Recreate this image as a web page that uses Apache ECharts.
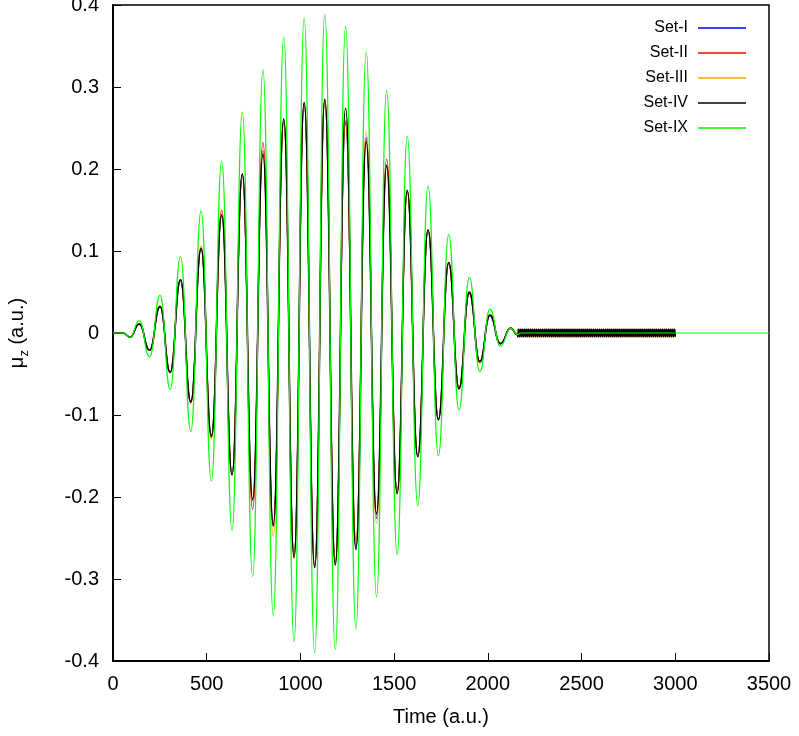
<!DOCTYPE html>
<html><head><meta charset="utf-8">
<script src="https://cdn.jsdelivr.net/npm/echarts@6/dist/echarts.min.js"></script>
<style>html,body{margin:0;padding:0;background:#fff}#c{width:799px;height:736px}</style>
</head><body><div id="c"></div>
<script>
const seriesNames = ['Set-I', 'Set-II', 'Set-III', 'Set-IV', 'Set-IX'];
const xTickValues = [0, 500, 1000, 1500, 2000, 2500, 3000, 3500];
const yTickValues = [-0.4, -0.3, -0.2, -0.1, 0, 0.1, 0.2, 0.3, 0.4];

// times of the read extrema (a.u.)
const times = [0, 53, 91, 140, 195, 251, 305, 360, 415, 470, 525, 580, 635,
  690, 745, 800, 855, 911, 966, 1020, 1076, 1130, 1186,
  1241, 1296, 1351, 1406, 1460, 1516, 1570, 1626, 1681, 1736,
  1791, 1846, 1901, 1957, 2011, 2067, 2122, 2157];

const setI = [0, 0, -0.005, 0.011, -0.021, 0.032, -0.048, 0.064, -0.084, 0.102, -0.125, 0.143, -0.172,
  0.193, -0.204, 0.222, -0.236, 0.258, -0.270, 0.279, -0.284, 0.283, -0.280,
  0.256, -0.262, 0.238, -0.226, 0.205, -0.194, 0.172, -0.150, 0.125, -0.105,
  0.085, -0.067, 0.048, -0.035, 0.021, -0.013, 0.006, -0.002];
const setII = [0, 0, -0.005, 0.011, -0.021, 0.033, -0.048, 0.065, -0.085, 0.104, -0.127, 0.150, -0.172,
  0.193, -0.215, 0.2325, -0.235, 0.259, -0.272, 0.280, -0.285, 0.284, -0.281,
  0.258, -0.252, 0.236, -0.222, 0.212, -0.195, 0.173, -0.150, 0.125, -0.105,
  0.085, -0.067, 0.049, -0.035, 0.022, -0.013, 0.006, -0.002];
const setIII = [0, 0, -0.005, 0.011, -0.021, 0.032, -0.048, 0.065, -0.086, 0.106, -0.129, 0.145, -0.172,
  0.193, -0.205, 0.222, -0.248, 0.260, -0.273, 0.280, -0.285, 0.284, -0.282,
  0.260, -0.255, 0.2455, -0.232, 0.206, -0.195, 0.173, -0.150, 0.125, -0.105,
  0.085, -0.067, 0.050, -0.037, 0.022, -0.013, 0.006, -0.002];
const setIV = [0, 0, -0.005, 0.011, -0.021, 0.032, -0.048, 0.065, -0.084, 0.103, -0.126, 0.144, -0.173,
  0.194, -0.203, 0.218, -0.234, 0.261, -0.274, 0.281, -0.286, 0.285, -0.283,
  0.274, -0.264, 0.233, -0.220, 0.204, -0.196, 0.174, -0.151, 0.126, -0.106,
  0.086, -0.068, 0.050, -0.035, 0.022, -0.013, 0.006, -0.002];
const setIX = [0, 0, -0.005, 0.015, -0.029, 0.046, -0.069, 0.093, -0.120, 0.149, -0.180, 0.210, -0.241,
  0.269, -0.297, 0.321, -0.344, 0.361, -0.376, 0.384, -0.390, 0.389, -0.386,
  0.374, -0.361, 0.343, -0.322, 0.296, -0.270, 0.240, -0.211, 0.179, -0.150,
  0.120, -0.094, 0.068, -0.047, 0.029, -0.016, 0.006, -0.002];

// Set-IX continues flat after the pulse
const ixTailTimes = [2175, 3500];
const ixTailValues = [0, 0];

// residual fast ripple of Sets I-IV from 2160 to 3000 (sample every 5.25 a.u.)
const tailStart = 2160;
const tailStep = 5.25;
const tailUp = [
  0.0045,-0.0045,0.0045,-0.0045,0.0045,-0.0045,0.0045,-0.0045,0.0045,-0.0045,0.0045,-0.0045,0.0045,-0.0045,0.0045,-0.0045,
  0.0045,-0.0045,0.0045,-0.0045,0.0045,-0.0045,0.0045,-0.0045,0.0045,-0.0045,0.0045,-0.0045,0.0045,-0.0045,0.0045,-0.0045,
  0.0045,-0.0045,0.0045,-0.0045,0.0045,-0.0045,0.0045,-0.0045,0.0045,-0.0045,0.0045,-0.0045,0.0045,-0.0045,0.0045,-0.0045,
  0.0045,-0.0045,0.0045,-0.0045,0.0045,-0.0045,0.0045,-0.0045,0.0045,-0.0045,0.0045,-0.0045,0.0045,-0.0045,0.0045,-0.0045,
  0.0045,-0.0045,0.0045,-0.0045,0.0045,-0.0045,0.0045,-0.0045,0.0045,-0.0045,0.0045,-0.0045,0.0045,-0.0045,0.0045,-0.0045,
  0.0045,-0.0045,0.0045,-0.0045,0.0045,-0.0045,0.0045,-0.0045,0.0045,-0.0045,0.0045,-0.0045,0.0045,-0.0045,0.0045,-0.0045,
  0.0045,-0.0045,0.0045,-0.0045,0.0045,-0.0045,0.0045,-0.0045,0.0045,-0.0045,0.0045,-0.0045,0.0045,-0.0045,0.0045,-0.0045,
  0.0045,-0.0045,0.0045,-0.0045,0.0045,-0.0045,0.0045,-0.0045,0.0045,-0.0045,0.0045,-0.0045,0.0045,-0.0045,0.0045,-0.0045,
  0.0045,-0.0045,0.0045,-0.0045,0.0045,-0.0045,0.0045,-0.0045,0.0045,-0.0045,0.0045,-0.0045,0.0045,-0.0045,0.0045,-0.0045,
  0.0045,-0.0045,0.0045,-0.0045,0.0045,-0.0045,0.0045,-0.0045,0.0045,-0.0045,0.0045,-0.0045,0.0045,-0.0045,0.0045,-0.0045,
  0.0045];
const tailDown = [
  -0.0045,0.0045,-0.0045,0.0045,-0.0045,0.0045,-0.0045,0.0045,-0.0045,0.0045,-0.0045,0.0045,-0.0045,0.0045,-0.0045,0.0045,
  -0.0045,0.0045,-0.0045,0.0045,-0.0045,0.0045,-0.0045,0.0045,-0.0045,0.0045,-0.0045,0.0045,-0.0045,0.0045,-0.0045,0.0045,
  -0.0045,0.0045,-0.0045,0.0045,-0.0045,0.0045,-0.0045,0.0045,-0.0045,0.0045,-0.0045,0.0045,-0.0045,0.0045,-0.0045,0.0045,
  -0.0045,0.0045,-0.0045,0.0045,-0.0045,0.0045,-0.0045,0.0045,-0.0045,0.0045,-0.0045,0.0045,-0.0045,0.0045,-0.0045,0.0045,
  -0.0045,0.0045,-0.0045,0.0045,-0.0045,0.0045,-0.0045,0.0045,-0.0045,0.0045,-0.0045,0.0045,-0.0045,0.0045,-0.0045,0.0045,
  -0.0045,0.0045,-0.0045,0.0045,-0.0045,0.0045,-0.0045,0.0045,-0.0045,0.0045,-0.0045,0.0045,-0.0045,0.0045,-0.0045,0.0045,
  -0.0045,0.0045,-0.0045,0.0045,-0.0045,0.0045,-0.0045,0.0045,-0.0045,0.0045,-0.0045,0.0045,-0.0045,0.0045,-0.0045,0.0045,
  -0.0045,0.0045,-0.0045,0.0045,-0.0045,0.0045,-0.0045,0.0045,-0.0045,0.0045,-0.0045,0.0045,-0.0045,0.0045,-0.0045,0.0045,
  -0.0045,0.0045,-0.0045,0.0045,-0.0045,0.0045,-0.0045,0.0045,-0.0045,0.0045,-0.0045,0.0045,-0.0045,0.0045,-0.0045,0.0045,
  -0.0045,0.0045,-0.0045,0.0045,-0.0045,0.0045,-0.0045,0.0045,-0.0045,0.0045,-0.0045,0.0045,-0.0045,0.0045,-0.0045,0.0045,
  -0.0045];

const colors = ['#0000ff', '#ff0000', '#ffa500', '#000000', '#00ff00'];
const widths = [1.2, 1.2, 1.2, 1.6, 1.2];

const tailTimes = tailUp.map((_, i) => tailStart + i * tailStep);
function pairs(ts, vs) { return ts.map((t, i) => [t, vs[i]]); }

const mainSets = [setI, setII, setIII, setIV];
const tails = [tailUp, tailDown, tailUp, tailDown];

const FONT = 'Liberation Sans, Arial, Helvetica, sans-serif';

const series = [];
mainSets.forEach((vals, k) => {
  series.push({
    name: seriesNames[k], type: 'line', symbol: 'none',
    smooth: 0.5, smoothMonotone: 'x',
    lineStyle: { color: colors[k], width: widths[k] },
    itemStyle: { color: colors[k] },
    data: pairs(times, vals).concat(pairs(tailTimes, tails[k])),
    animation: false, silent: true
  });
});
series.push({
  name: seriesNames[4], type: 'line', symbol: 'none',
  smooth: 0.5, smoothMonotone: 'x',
  lineStyle: { color: colors[4], width: widths[4] },
  itemStyle: { color: colors[4] },
  data: pairs(times, setIX).concat(pairs(ixTailTimes, ixTailValues)),
  animation: false, silent: true
});

const chart = echarts.init(document.getElementById('c'), null, { renderer: 'canvas' });
chart.setOption({
  animation: false,
  backgroundColor: '#ffffff',
  textStyle: { fontFamily: FONT },
  grid: {
    left: 113, right: 30, top: 5, bottom: 75, containLabel: false, outerBoundsMode: 'none',
    show: true, borderColor: '#000', borderWidth: 1.5, backgroundColor: 'transparent'
  },
  legend: {
    orient: 'vertical', right: 53, top: 20, padding: 0,
    align: 'right', itemGap: 9, itemWidth: 48, itemHeight: 1.5, icon: 'rect',
    data: seriesNames,
    textStyle: { fontFamily: FONT, fontSize: 16, color: '#000', lineHeight: 16, padding: [0, 5, 0, 0] },
    selectedMode: false
  },
  xAxis: {
    type: 'value',
    min: xTickValues[0], max: xTickValues[xTickValues.length - 1],
    interval: xTickValues[1] - xTickValues[0],
    name: 'Time (a.u.)', nameLocation: 'middle', nameGap: 46,
    nameTextStyle: { fontFamily: FONT, fontSize: 20, color: '#000' },
    axisLine: { show: true, onZero: false, lineStyle: { color: '#000', width: 2 } },
    axisTick: { show: true, inside: true, length: 8, lineStyle: { color: '#000', width: 1 } },
    axisLabel: { fontFamily: FONT, fontSize: 20, color: '#000', margin: 13, formatter: v => String(v) },
    splitLine: { show: false }
  },
  yAxis: {
    type: 'value',
    min: yTickValues[0], max: yTickValues[yTickValues.length - 1],
    interval: 0.1,
    name: 'μ{sub|z} (a.u.)', nameLocation: 'middle', nameGap: 82,
    nameTextStyle: {
      fontFamily: FONT, fontSize: 20, color: '#000', lineHeight: 28,
      rich: { sub: { fontFamily: FONT, fontSize: 13, lineHeight: 13, verticalAlign: 'bottom', color: '#000' } }
    },
    axisLine: { show: true, onZero: false, lineStyle: { color: '#000', width: 2 } },
    axisTick: { show: true, inside: true, length: 8, lineStyle: { color: '#000', width: 1 } },
    axisLabel: {
      fontFamily: FONT, fontSize: 20, color: '#000', margin: 14,
      formatter: v => { const r = Math.round(v * 10) / 10; return r === 0 ? '0' : String(r); }
    },
    splitLine: { show: false }
  },
  series: series
});
</script>
</body></html>
